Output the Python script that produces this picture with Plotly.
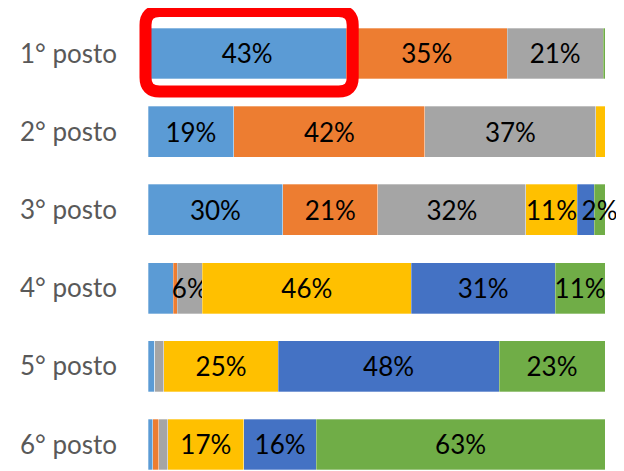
import plotly.graph_objects as go

categories = ["1° posto", "2° posto", "3° posto", "4° posto", "5° posto", "6° posto"]

series_names = ["A", "B", "C", "D", "E", "F"]
colors = ["#5B9BD5", "#ED7D31", "#A5A5A5", "#FFC000", "#4472C4", "#70AD47"]

blue_vals = [43.4, 18.8, 29.5, 5.5, 1.5, 1.0]
orange_vals = [35.2, 41.8, 20.8, 0.9, 0.0, 1.4]
gray_vals = [21.0, 37.4, 32.4, 5.5, 2.0, 1.9]
yellow_vals = [0.0, 2.0, 11.2, 45.7, 25.0, 16.7]
darkblue_vals = [0.0, 0.0, 3.7, 31.5, 48.4, 15.8]
green_vals = [0.4, 0.0, 2.4, 10.9, 23.2, 63.2]

blue_labels = ["43%", "19%", "30%", "", "", ""]
orange_labels = ["35%", "42%", "21%", "", "", ""]
gray_labels = ["21%", "37%", "32%", "6%", "", ""]
yellow_labels = ["", "", "11%", "46%", "25%", "17%"]
darkblue_labels = ["", "", "", "31%", "48%", "16%"]
green_labels = ["", "", "2%", "11%", "23%", "63%"]

all_vals = [blue_vals, orange_vals, gray_vals, yellow_vals, darkblue_vals, green_vals]
all_labels = [blue_labels, orange_labels, gray_labels, yellow_labels, darkblue_labels, green_labels]

FONT = "Lato"
OFF = 8  # default page body margin
W, H = 624 - OFF, 471 - OFF
ML, MR, MT, MB = 140, 19, 6, 0
PW, PH = W - ML - MR, H - MT - MB

fig = go.Figure()
for name, col, vals, labs in zip(series_names, colors, all_vals, all_labels):
    fig.add_trace(go.Bar(
        y=categories, x=vals, orientation="h", name=name,
        marker=dict(color=col, line=dict(color="rgba(255,255,255,0.6)", width=0.5)),
        text=labs, textposition="inside", insidetextanchor="middle",
        textangle=0, constraintext="none", cliponaxis=False,
        textfont=dict(family=FONT, size=26, color="#000000"),
        hoverinfo="skip",
    ))

# highlight box (rounded rectangle) around the first bar's first segment, in paper units
def px_x(p):
    return (p - OFF - ML) / PW

def px_y(p):
    return (H - MB - (p - OFF)) / PH

bx0, bx1, by0, by1 = px_x(145.5), px_x(352.7), px_y(91.5), px_y(11)
rx, ry = 14 / PW, 14 / PH
path = (f"M {bx0+rx},{by1} L {bx1-rx},{by1} Q {bx1},{by1} {bx1},{by1-ry} "
        f"L {bx1},{by0+ry} Q {bx1},{by0} {bx1-rx},{by0} "
        f"L {bx0+rx},{by0} Q {bx0},{by0} {bx0},{by0+ry} "
        f"L {bx0},{by1-ry} Q {bx0},{by1} {bx0+rx},{by1} Z")
fig.add_shape(type="path", path=path, xref="paper", yref="paper",
              line=dict(color="#FF0000", width=12), fillcolor="rgba(0,0,0,0)", layer="above")

fig.update_layout(
    barmode="stack", barnorm="percent", bargap=0.35,
    width=W, height=H,
    margin=dict(l=ML, r=MR, t=MT, b=MB, autoexpand=False),
    paper_bgcolor="white", plot_bgcolor="white",
    showlegend=False,
    uniformtext=dict(mode="show", minsize=26),
    xaxis=dict(range=[0, 100], visible=False, fixedrange=True, automargin=False),
    yaxis=dict(range=[5.339, -0.505], categoryorder="array", categoryarray=categories,
               showgrid=False, zeroline=False, showline=False, ticks="",
               automargin=False, ticklabelstandoff=30,
               tickfont=dict(family=FONT, size=26, color="#595959")),
)

fig.write_html("out.html")
